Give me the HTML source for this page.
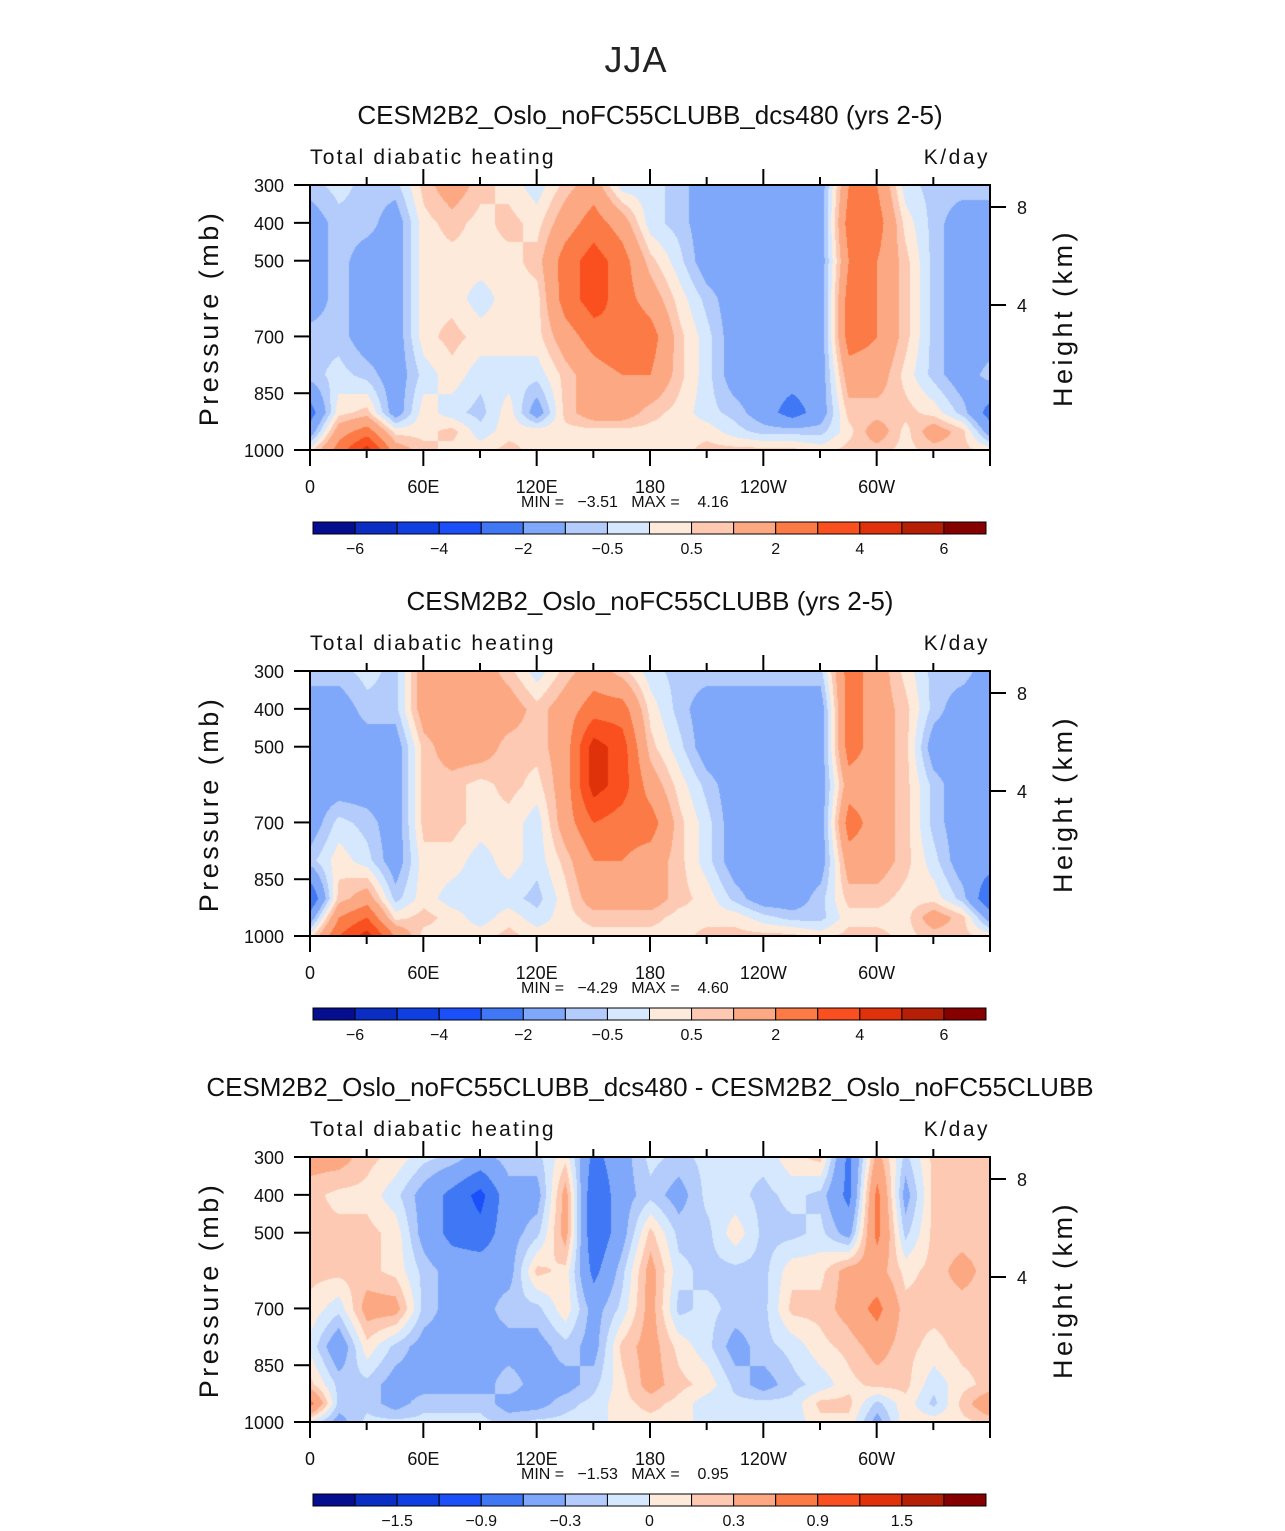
<!DOCTYPE html>
<html><head><meta charset="utf-8"><style>
body{margin:0;background:#fff;width:1285px;height:1531px;position:relative;overflow:hidden;font-family:"Liberation Sans",sans-serif}
canvas{position:absolute}
svg{position:absolute;left:0;top:0}
</style></head><body>
<canvas id="c0" width="680" height="265" style="left:310px;top:185px"></canvas>
<canvas id="c1" width="680" height="265" style="left:310px;top:671px"></canvas>
<canvas id="c2" width="680" height="265" style="left:310px;top:1157px"></canvas>
<svg id="ov" width="1285" height="1531">
<text x="636" y="72" font-size="36" text-anchor="middle" fill="#222" letter-spacing="1">JJA</text>
</svg>
<script>
const lons=[0,15,30,45,60,75,90,105,120,135,150,165,180,195,210,225,240,255,270,285,300,315,330,345,360];
const levels=[300,400,500,600,700,800,900,950,1000];
const palette=["#040e8f","#0a2ec4","#0f3fe0","#1a4ffa","#3f77f5","#80a8fa","#b3ccfb","#d6e8fd","#feeadb","#fdc9b3","#fca983","#fc7a45","#fa4f1e","#e0320a","#b41f05","#870000"];
const bounds12=[-6,-5,-4,-3,-2,-1,-0.5,0,0.5,1,2,3,4,5,6];
const bounds3=[-1.8,-1.5,-1.2,-0.9,-0.6,-0.3,-0.15,0,0.15,0.3,0.6,0.9,1.2,1.5,1.8];
const cbLabels12=[[1,"-6"],[3,"-4"],[5,"-2"],[7,"-0.5"],[9,"0.5"],[11,"2"],[13,"4"],[15,"6"]];
const cbLabels3=[[2,"-1.5"],[4,"-0.9"],[6,"-0.3"],[8,"0"],[10,"0.3"],[12,"0.9"],[14,"1.5"]];
const field1=[
[-0.7,-1.5,-1.5,-1.5,-0.7,-0.7,-2.5,-1.5,0.3],
[-0.3,-0.7,-0.7,-0.7,-0.7,-0.3,0.3,1.5,2.5],
[-0.7,-0.7,-1.5,-1.5,-1.5,-0.7,0.7,2.5,4.5],
[-0.7,-1.5,-1.5,-1.5,-1.5,-1.5,-1.5,0.3,1.5],
[0.7,0.3,0.3,0.3,0.3,-0.3,0.3,0.3,0.7],
[1.5,0.7,0.3,0.3,0.7,0.3,-0.3,0.7,0.3],
[0.7,0.3,0.3,-0.3,0.3,-0.3,-0.7,-0.3,0.3],
[0.3,0.7,0.3,0.3,0.3,-0.3,0.3,0.3,0.7],
[-0.3,0.3,0.7,0.3,0.3,-0.3,-1.5,0.3,0.3],
[0.7,1.5,2.5,2.5,1.5,0.7,0.7,0.3,0.3],
[1.5,2.5,3.5,3.5,2.5,1.5,1.5,0.3,0.3],
[-0.3,1.5,2.5,2.5,3,2,1.5,0.3,0.3],
[-0.3,-0.3,0.7,1.5,2.5,2,0.7,0.3,0.3],
[-0.7,-0.7,-0.3,0.3,0.7,0.7,0.3,0.3,0.3],
[-1.5,-1.5,-1.5,-0.7,-0.3,-0.3,-0.3,0.3,0.7],
[-1.5,-1.5,-1.5,-1.5,-1.5,-1.5,-0.7,-0.3,0.7],
[-1.5,-1.5,-1.5,-1.5,-1.5,-1.5,-1.5,-0.7,0.7],
[-1.5,-1.5,-1.5,-1.5,-1.5,-1.5,-2.5,-0.7,0.7],
[-1.5,-1.5,-1.5,-1.5,-1.5,-1.5,-1.5,-0.7,0.3],
[2,2.5,2,2.5,2.5,1.5,0.7,0.3,0.7],
[2,2.5,2,2,2,1.5,0.7,1.5,0.7],
[-0.3,0.3,0.7,0.7,0.7,0.3,0.7,0.3,0.3],
[-0.7,-0.7,-0.7,-0.7,-0.7,-0.7,0.3,1.5,0.7],
[-0.7,-1.5,-1.5,-1.5,-1.5,-1.5,-0.7,0.7,0.7],
[-0.7,-1.5,-1.5,-1.5,-1.5,-0.7,-2.5,-1.5,0.3]];
const field2=[
[-0.7,-1.5,-1.5,-1.5,-1.5,-0.7,-3,-1.5,0.3],
[-0.7,-1.5,-1.5,-1.5,-0.3,0.3,0.7,2,3],
[-0.3,-0.7,-1.5,-1.5,-0.7,-0.3,1.5,3,4.5],
[-0.7,-0.7,-1.5,-1.5,-1.5,-1.5,-0.7,0.3,2],
[1.5,1.5,0.7,0.7,0.7,0.3,0.3,0.7,0.3],
[1.5,1.5,1.5,0.7,0.7,0.3,-0.3,0.3,0.3],
[1.5,1.5,1.5,0.3,0.3,-0.3,-0.3,-0.3,0.3],
[0.7,1.5,0.7,0.7,0.3,0.3,-0.3,0.3,0.7],
[-0.3,0.7,0.7,0.3,-0.3,-0.3,-0.7,-0.3,0.3],
[0.7,1.5,1.5,1.5,1.5,0.7,0.3,0.3,0.3],
[1.5,2.5,4.5,4.5,3,2,1.5,0.7,0.3],
[0.7,2.5,3.5,3.5,2.5,2,1.5,0.7,0.3],
[-0.3,0.3,0.7,1.5,2.5,1.5,1.5,0.7,0.3],
[-0.7,-0.7,-0.3,0.3,0.7,0.7,0.7,0.3,0.3],
[-0.7,-1.5,-1.5,-0.7,-0.3,-0.3,0.3,0.3,0.7],
[-0.7,-1.5,-1.5,-1.5,-1.5,-1.5,-0.7,0.3,0.7],
[-0.7,-1.5,-1.5,-1.5,-1.5,-1.5,-1.5,-0.3,0.7],
[-0.7,-1.5,-1.5,-1.5,-1.5,-1.5,-1.5,-0.7,0.7],
[-0.7,-1.5,-1.5,-1.5,-1.5,-1.5,-0.7,-0.7,0.3],
[2.5,2.5,2.5,1.5,2.5,1.5,0.7,0.3,0.7],
[1.5,1.5,1.5,1.5,1.5,1.5,0.7,0.3,0.7],
[0.3,0.7,0.7,0.7,0.7,0.7,0.3,0.3,0.3],
[-0.7,-0.7,-1.5,-0.7,-0.7,-0.3,0.3,1.5,0.7],
[-0.7,-1.5,-1.5,-1.5,-1.5,-1.5,-0.7,0.7,0.7],
[-1.5,-1.5,-1.5,-1.5,-1.5,-1.5,-3,-1.5,0.3]];
const field3=[
[0.4,0.2,0.2,0.2,0.1,-0.05,0.2,0.7,-0.05],
[0.4,0.1,0.2,0.2,-0.1,-0.5,-0.2,-0.2,-0.4],
[0.2,0.1,0.2,0.2,0.4,0.1,-0.2,-0.2,-0.1],
[0.1,-0.1,0.1,0.1,0.4,-0.2,-0.4,-0.4,-0.1],
[-0.1,-0.4,-0.4,-0.2,-0.2,-0.4,-0.4,-0.2,-0.1],
[-0.2,-0.7,-0.7,-0.4,-0.4,-0.4,-0.4,-0.2,-0.1],
[-0.4,-1.0,-0.8,-0.4,-0.4,-0.4,-0.4,-0.2,-0.1],
[-0.2,-0.4,-0.4,-0.4,-0.2,-0.4,-0.2,-0.4,-0.2],
[-0.2,-0.4,-0.2,0.2,-0.2,-0.4,-0.4,-0.4,-0.1],
[0.1,0.4,0.4,0.1,0.1,-0.2,-0.4,-0.2,-0.1],
[-0.7,-0.9,-0.9,-0.7,-0.4,-0.4,-0.2,-0.1,-0.1],
[-0.4,-0.4,-0.4,-0.2,-0.1,0.2,0.1,0.1,0.1],
[-0.1,-0.2,0.2,0.4,0.4,0.4,0.4,0.2,0.1],
[-0.2,-0.4,-0.2,-0.1,-0.2,0.1,0.2,0.1,0.1],
[-0.1,-0.1,-0.2,-0.2,-0.1,-0.1,0.1,-0.1,-0.1],
[-0.1,-0.1,0.1,-0.2,-0.2,-0.4,-0.2,-0.1,-0.1],
[-0.1,-0.2,-0.2,-0.2,-0.2,-0.2,-0.4,-0.1,-0.1],
[0.1,-0.1,-0.2,0.1,0.2,-0.1,-0.2,-0.1,-0.1],
[0.2,-0.2,-0.1,0.1,0.2,0.1,-0.1,0.2,0.1],
[-0.7,-0.7,-0.4,0.4,0.4,0.2,0.1,0.2,0.1],
[0.4,0.7,0.7,0.4,0.7,0.4,0.2,-0.2,-0.4],
[-0.2,-0.4,-0.2,0.1,0.2,0.2,0.2,0.1,0.1],
[0.2,0.2,0.2,0.2,0.2,0.1,-0.1,-0.2,0.1],
[0.2,0.2,0.2,0.4,0.2,0.2,0.1,0.2,0.1],
[0.2,0.2,0.2,0.2,0.2,0.2,0.2,0.5,0.2]];
const panelTitles=["CESM2B2_Oslo_noFC55CLUBB_dcs480 (yrs 2-5)","CESM2B2_Oslo_noFC55CLUBB (yrs 2-5)","CESM2B2_Oslo_noFC55CLUBB_dcs480 - CESM2B2_Oslo_noFC55CLUBB"];
const minVals=["-3.51","-4.29","-1.53"];
const maxVals=["4.16","4.60","0.95"];
const pTicks=[300,400,500,700,850,1000];
const hTicks=[[8,22],[4,120]];
const xTickLabels=["0","60E","120E","180","120W","60W"];

const W=680,H=265,X0=310;
const xScale=l=>l/360*W;
const yScale=p=>(p-300)/700*H;
function hex(c){return [parseInt(c.substr(1,2),16),parseInt(c.substr(3,2),16),parseInt(c.substr(5,2),16)];}
const rgb=palette.map(hex);
function binOf(v,b){let i=0;while(i<b.length&&v>=b[i])i++;return i;}
function drawField(id,field,b){
  const cv=document.getElementById(id),ctx=cv.getContext('2d');
  const img=ctx.createImageData(W,H);
  for(let py=0;py<H;py++){
    const p=300+py/H*700;
    let r=0;while(r<levels.length-2&&p>levels[r+1])r++;
    const tr=(p-levels[r])/(levels[r+1]-levels[r]);
    for(let px=0;px<W;px++){
      const l=px/W*360;
      let c=Math.min(Math.floor(l/15),lons.length-2);
      const tc=(l-lons[c])/15;
      const v=(field[c][r]*(1-tr)+field[c][r+1]*tr)*(1-tc)+(field[c+1][r]*(1-tr)+field[c+1][r+1]*tr)*tc;
      const col=rgb[binOf(v,b)];const k=(py*W+px)*4;
      img.data[k]=col[0];img.data[k+1]=col[1];img.data[k+2]=col[2];img.data[k+3]=255;
    }
  }
  ctx.putImageData(img,0,0);
}
drawField('c0',field1,bounds12);drawField('c1',field2,bounds12);drawField('c2',field3,bounds3);

const svg=document.getElementById('ov');const NS='http://www.w3.org/2000/svg';
function mk(tag,attrs,parent){const e=document.createElementNS(NS,tag);for(const k in attrs)e.setAttribute(k,attrs[k]);(parent||svg).appendChild(e);return e;}
function txt(x,y,s,size,anchor,parent,extra){const e=mk('text',Object.assign({x:x,y:y,'font-size':size,'text-anchor':anchor||'start',fill:'#111'},extra||{}),parent);e.textContent=s;return e;}
for(let i=0;i<3;i++){
  const oy=486*i,top=185+oy,bot=top+H;
  const g=mk('g',{});
  
  
  const t=txt(650,124+oy,panelTitles[i],26,'middle',g);
  
  
  const lt=txt(310,164+oy,'Total diabatic heating',21,'start',g,{'letter-spacing':'2.2'});
  
  
  const ut=txt(990,164+oy,'K/day',21,'end',g,{'letter-spacing':'2.5'});
  
  
  mk('rect',{x:X0,y:top,width:W,height:H,fill:'none',stroke:'#000','stroke-width':2},g);
  for(let l=0;l<=360;l+=30){
    const x=X0+xScale(l),maj=l%60===0,len=maj?16:8;
    mk('line',{x1:x,x2:x,y1:bot,y2:bot+len,stroke:'#000','stroke-width':2},g);
    if(l>0&&l<360)mk('line',{x1:x,x2:x,y1:top,y2:top-len,stroke:'#000','stroke-width':2},g);
  }
  xTickLabels.forEach((s,j)=>{const e=txt(X0+xScale(j*60),493+oy,s,18,'middle',g);
    
    });
  pTicks.forEach(p=>{const y=top+yScale(p);
    mk('line',{x1:X0-16,x2:X0,y1:y,y2:y,stroke:'#000','stroke-width':2},g);
    const e=txt(284,y+7,String(p),18,'end',g);
    
    });
  hTicks.forEach(h=>{const y=top+h[1];
    mk('line',{x1:X0+W,x2:X0+W+16,y1:y,y2:y,stroke:'#000','stroke-width':2},g);
    const e=txt(1017,y+7,String(h[0]),18,'start',g);
    
    });
  const yl=txt(0,0,'Pressure (mb)',27,'middle',g,{transform:'translate(218,'+(318+oy)+') rotate(-90)','letter-spacing':'3.5'});
  
  
  const hl=txt(0,0,'Height (km)',27,'middle',g,{transform:'translate(1072,'+(318+oy)+') rotate(-90)','letter-spacing':'3.5'});
  
  
  const mm=txt(521,507+oy,'MIN =   '+minVals[i].replace('-','\u2212')+'   MAX =    '+maxVals[i],16,'start',g,{style:'white-space:pre'});
  
  
  const cb=mk('g',{},g);
  
  
  const bw=673/16;
  palette.forEach((c,k)=>{mk('rect',{x:313+k*bw,y:522+oy,width:bw,height:12,fill:c,stroke:'#000','stroke-width':1},cb);});
  (i<2?cbLabels12:cbLabels3).forEach(a=>{const e=txt(313+a[0]*bw,554+oy,a[1].replace('-','\u2212'),16,'middle',cb);
    
    });
}
</script>
</body></html>
